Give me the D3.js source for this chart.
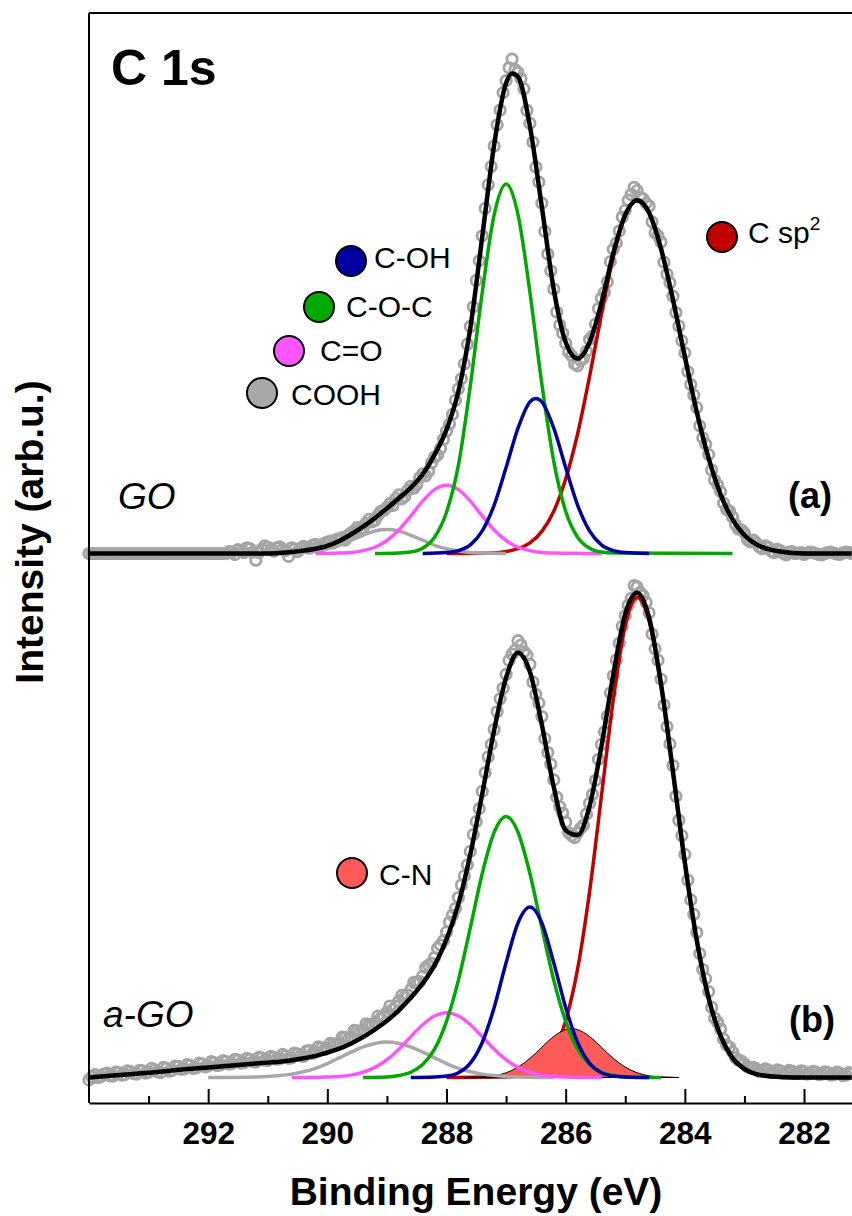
<!DOCTYPE html>
<html>
<head>
<meta charset="utf-8">
<script src="https://cdn.jsdelivr.net/npm/d3@7"></script>
<style>
    body { margin: 0; background: #fff; }
    svg { display: block; font-family: "Liberation Sans", Arial, sans-serif; }
</style>
</head>
<body>
<div class="chart"></div>
<script>
// measured C 1s spectra, [binding energy (eV), intensity (arb.u.)]
const goData = [
    [294.00,0],[293.95,0],[293.90,0],[293.85,0],[293.80,0],[293.75,0],[293.70,0],[293.65,0],[293.60,0],[293.55,0],
    [293.50,0],[293.45,0],[293.40,0],[293.35,0],[293.30,0],[293.25,0],[293.20,0],[293.15,0],[293.10,0],[293.05,0],
    [293.00,0],[292.95,0],[292.90,0],[292.85,0],[292.80,0],[292.75,0],[292.70,0],[292.65,0],[292.60,0],[292.55,0],
    [292.50,0],[292.45,0],[292.40,0],[292.35,0],[292.30,0],[292.25,0],[292.20,0],[292.15,0],[292.10,0],[292.05,0],
    [292.00,0],[291.95,0],[291.90,0],[291.85,0],[291.80,0],[291.75,0],[291.70,0],[291.65,0.4],[291.60,0.3],[291.55,-0.2],
    [291.50,0.8],[291.45,0.5],[291.40,0.2],[291.35,1.2],[291.30,1.0],[291.25,0.3],[291.20,-1.4],[291.15,0.2],[291.10,0.9],[291.05,1.6],
    [291.00,1.3],[290.95,0.8],[290.90,0.5],[290.85,1.2],[290.80,1.4],[290.75,0.9],[290.70,0.6],[290.65,-0.6],[290.60,1.2],[290.55,0.9],
    [290.50,0.4],[290.45,1.1],[290.40,1.5],[290.35,1.2],[290.30,1.1],[290.25,1.7],[290.20,1.9],[290.15,1.4],[290.10,1.6],[290.05,2.1],
    [290.00,2.4],[289.95,2.6],[289.90,2.2],[289.85,2.9],[289.80,3.1],[289.75,3.3],[289.70,2.8],[289.65,3.8],[289.60,4.3],[289.55,4.7],
    [289.50,5.4],[289.45,5.0],[289.40,5.2],[289.35,6.3],[289.30,7.1],[289.25,6.6],[289.20,6.9],[289.15,8.0],[289.10,8.8],[289.05,9.0],
    [289.00,9.6],[288.95,10.4],[288.90,10.0],[288.85,11.5],[288.80,12.2],[288.75,11.4],[288.70,11.9],[288.65,13.2],[288.60,14.0],[288.55,13.6],
    [288.50,14.3],[288.45,15.8],[288.40,16.6],[288.35,16.2],[288.30,17.1],[288.25,18.9],[288.20,20.1],[288.15,20.5],[288.10,21.9],[288.05,23.8],
    [288.00,25.5],[287.95,27.0],[287.90,29.0],[287.85,31.9],[287.80,34.3],[287.75,36.4],[287.70,39.5],[287.65,43.6],[287.60,47.3],[287.55,51.4],
    [287.50,56.9],[287.45,61.0],[287.40,66.2],[287.35,71.9],[287.30,76.8],[287.25,80.6],[287.20,84.9],[287.15,89.3],[287.10,92.4],[287.05,96.0],
    [287.00,98.5],[286.95,101.2],[286.90,103.0],[286.85,100.8],[286.80,100.2],[286.75,98.9],[286.70,96.8],[286.65,92.3],[286.60,89.6],[286.55,85.7],
    [286.50,80.5],[286.45,77.4],[286.40,73.0],[286.35,67.1],[286.30,62.4],[286.25,58.9],[286.20,55.1],[286.15,50.3],[286.10,47.6],[286.05,45.9],
    [286.00,43.8],[285.95,42.0],[285.90,41.2],[285.85,39.5],[285.80,39.1],[285.75,40.2],[285.70,40.7],[285.65,42.1],[285.60,44.6],[285.55,45.3],
    [285.50,47.8],[285.45,51.0],[285.40,53.2],[285.35,54.4],[285.30,56.6],[285.25,60.8],[285.20,63.4],[285.15,64.7],[285.10,67.2],[285.05,70.1],
    [285.00,71.5],[284.95,73.6],[284.90,74.8],[284.85,76.3],[284.80,75.6],[284.75,74.2],[284.70,73.9],[284.65,73.0],[284.60,72.4],[284.55,69.1],
    [284.50,66.8],[284.45,66.2],[284.40,64.9],[284.35,60.7],[284.30,58.2],[284.25,56.4],[284.20,53.6],[284.15,50.2],[284.10,47.4],[284.05,44.3],
    [284.00,41.8],[283.95,37.9],[283.90,35.2],[283.85,33.0],[283.80,30.4],[283.75,26.6],[283.70,24.1],[283.65,22.8],[283.60,20.6],[283.55,17.4],
    [283.50,15.3],[283.45,14.3],[283.40,12.9],[283.35,10.5],[283.30,9.2],[283.25,8.8],[283.20,7.6],[283.15,6.0],[283.10,5.1],[283.05,4.9],
    [283.00,4.3],[282.95,2.9],[282.90,2.4],[282.85,2.8],[282.80,2.2],[282.75,1.4],[282.70,1.0],[282.65,1.6],[282.60,1.3],[282.55,0.5],
    [282.50,0.2],[282.45,0.9],[282.40,0.6],[282.35,0.1],[282.30,-0.3],[282.25,0.3],[282.20,0.4],[282.15,0],[282.10,0.1],[282.05,0.2],
    [282.00,-0.2],[281.95,0.1],[281.90,0.3],[281.85,0.2],[281.80,0],[281.75,-0.2],[281.70,-0.3],[281.65,0],[281.60,0.2],[281.55,0.3],
    [281.50,0.1],[281.45,-0.1],[281.40,-0.2],[281.35,0.1],[281.30,0.3],[281.25,0.2],[281.20,0]
];

const agoData = [
    [294.00,-0.5],[293.95,0.1],[293.90,0.6],[293.85,0.0],[293.80,0.2],[293.75,0.7],[293.70,0.9],[293.65,0.4],[293.60,0.3],[293.55,1.1],
    [293.50,1.0],[293.45,0.5],[293.40,0.6],[293.35,1.4],[293.30,1.2],[293.25,0.8],[293.20,0.7],[293.15,1.5],[293.10,1.4],[293.05,0.9],
    [293.00,1.1],[292.95,1.9],[292.90,1.6],[292.85,1.2],[292.80,1.0],[292.75,2.1],[292.70,1.9],[292.65,1.3],[292.60,1.5],[292.55,2.4],
    [292.50,2.3],[292.45,1.7],[292.40,1.8],[292.35,2.7],[292.30,2.5],[292.25,1.9],[292.20,2.0],[292.15,3.0],[292.10,2.8],[292.05,2.2],
    [292.00,2.4],[291.95,3.3],[291.90,3.1],[291.85,2.5],[291.80,2.6],[291.75,3.5],[291.70,3.3],[291.65,2.8],[291.60,2.9],[291.55,3.8],
    [291.50,3.6],[291.45,3.0],[291.40,3.1],[291.35,4.0],[291.30,3.8],[291.25,3.3],[291.20,3.2],[291.15,4.2],[291.10,4.1],[291.05,3.6],
    [291.00,3.5],[290.95,4.4],[290.90,4.2],[290.85,3.8],[290.80,3.9],[290.75,4.8],[290.70,4.5],[290.65,4.0],[290.60,4.1],[290.55,5.1],
    [290.50,4.9],[290.45,4.5],[290.40,4.4],[290.35,5.5],[290.30,5.6],[290.25,5.0],[290.20,5.3],[290.15,6.4],[290.10,6.2],[290.05,5.8],
    [290.00,6.0],[289.95,7.1],[289.90,7.0],[289.85,6.9],[289.80,7.2],[289.75,8.4],[289.70,8.3],[289.65,8.0],[289.60,8.5],[289.55,9.8],
    [289.50,9.7],[289.45,9.4],[289.40,9.9],[289.35,11.2],[289.30,11.0],[289.25,10.9],[289.20,11.5],[289.15,12.8],[289.10,12.4],[289.05,12.7],
    [289.00,13.6],[288.95,14.9],[288.90,14.2],[288.85,14.8],[288.80,15.9],[288.75,17.1],[288.70,16.8],[288.65,17.2],[288.60,18.3],[288.55,19.8],
    [288.50,19.9],[288.45,20.0],[288.40,21.1],[288.35,22.9],[288.30,23.4],[288.25,23.8],[288.20,25.0],[288.15,26.9],[288.10,27.6],[288.05,28.5],
    [288.00,30.3],[287.95,32.4],[287.90,33.8],[287.85,35.2],[287.80,37.5],[287.75,40.1],[287.70,42.0],[287.65,44.3],[287.60,47.1],[287.55,50.6],
    [287.50,53.3],[287.45,56.0],[287.40,59.6],[287.35,63.5],[287.30,66.8],[287.25,69.4],[287.20,72.5],[287.15,76.2],[287.10,78.9],[287.05,81.1],
    [287.00,84.0],[286.95,86.9],[286.90,88.2],[286.85,89.0],[286.80,91.0],[286.75,90.1],[286.70,88.7],[286.65,88.0],[286.60,86.1],[286.55,82.4],
    [286.50,79.8],[286.45,78.0],[286.40,75.2],[286.35,70.6],[286.30,67.7],[286.25,65.3],[286.20,62.0],[286.15,58.4],[286.10,56.4],[286.05,55.1],
    [286.00,53.2],[285.95,51.0],[285.90,50.4],[285.85,50.0],[285.80,51.0],[285.75,51.9],[285.70,52.6],[285.65,54.9],[285.60,57.1],[285.55,59.0],
    [285.50,61.9],[285.45,66.3],[285.40,69.4],[285.35,72.0],[285.30,75.3],[285.25,80.1],[285.20,83.7],[285.15,87.0],[285.10,90.5],[285.05,94.0],
    [285.00,96.2],[284.95,98.4],[284.90,99.8],[284.85,102.5],[284.80,102.2],[284.75,101.0],[284.70,100.4],[284.65,99.0],[284.60,96.8],[284.55,92.4],
    [284.50,89.3],[284.45,86.9],[284.40,83.0],[284.35,77.6],[284.30,73.1],[284.25,69.5],[284.20,65.0],[284.15,58.6],[284.10,53.6],[284.05,50.4],
    [284.00,46.5],[283.95,41.1],[283.90,37.0],[283.85,34.0],[283.80,30.2],[283.75,25.8],[283.70,22.5],[283.65,20.6],[283.60,17.9],[283.55,14.6],
    [283.50,12.4],[283.45,11.5],[283.40,10.1],[283.35,8.0],[283.30,6.8],[283.25,6.3],[283.20,5.3],[283.15,4.1],[283.10,3.6],[283.05,3.4],
    [283.00,2.9],[282.95,2.2],[282.90,2.0],[282.85,2.1],[282.80,1.8],[282.75,1.3],[282.70,1.5],[282.65,1.8],[282.60,1.6],[282.55,1.0],
    [282.50,1.2],[282.45,1.6],[282.40,1.4],[282.35,0.9],[282.30,1.1],[282.25,1.5],[282.20,1.3],[282.15,0.8],[282.10,0.9],[282.05,1.4],
    [282.00,1.2],[281.95,0.7],[281.90,0.8],[281.85,1.3],[281.80,1.1],[281.75,0.6],[281.70,0.7],[281.65,1.2],[281.60,1.0],[281.55,0.5],
    [281.50,0.6],[281.45,1.1],[281.40,0.9],[281.35,0.4],[281.30,0.5],[281.25,1.0],[281.20,0.8]
];

// fitted components, [energy, intensity]
const goCsp2 = [[288.0,0],[287.2,0.1],[287.0,0.4],[286.8,1.0],[286.6,2.2],[286.4,4.6],[286.2,8.8],[286.0,15.5],[285.8,24.9],[285.6,36.8],[285.4,49.8],[285.2,61.8],[285.0,70.4],[284.8,73.5],[284.6,70.9],[284.4,63.5],[284.2,52.9],[284.0,41.0],[283.8,29.5],[283.6,19.8],[283.4,12.3],[283.2,7.1],[283.0,3.8],[282.8,1.9],[282.6,0.9],[282.4,0.4],[282.2,0.1],[281.8,0]];
const goCOH = [[288.4,0],[288.0,0.2],[287.8,0.6],[287.6,1.8],[287.4,4.7],[287.2,10.1],[287.0,17.9],[286.8,26.1],[286.6,31.6],[286.5,32.3],[286.4,31.6],[286.2,26.1],[286.0,17.9],[285.8,10.1],[285.6,4.7],[285.4,1.8],[285.2,0.6],[285.0,0.2],[284.6,0]];
const goCOC = [[289.2,0],[288.8,0.1],[288.6,0.3],[288.4,1.1],[288.2,3.4],[288.0,8.6],[287.8,18.4],[287.6,35.0],[287.4,54.4],[287.2,70.6],[287.0,77.0],[286.8,70.6],[286.6,54.4],[286.4,35.3],[286.2,19.2],[286.0,8.8],[285.8,3.4],[285.6,1.1],[285.4,0.3],[285.2,0.1],[283.2,0]];
const goCO = [[290.2,0],[289.8,0.1],[289.6,0.2],[289.4,0.6],[289.2,1.3],[289.0,2.7],[288.8,4.9],[288.6,7.8],[288.4,10.9],[288.2,13.3],[288.0,14.2],[287.8,13.3],[287.6,10.9],[287.4,7.8],[287.2,4.9],[287.0,2.7],[286.8,1.3],[286.6,0.6],[286.4,0.2],[286.2,0.1],[285.4,0]];
const goCOOH = [[291.0,0],[290.6,0.1],[290.4,0.2],[290.2,0.5],[290.0,1.0],[289.8,1.7],[289.6,2.8],[289.4,3.8],[289.2,4.7],[289.0,5.0],[288.8,4.7],[288.6,3.8],[288.4,2.8],[288.2,1.7],[288.0,1.0],[287.8,0.5],[287.6,0.2],[287.4,0.1],[287.0,0]];
const goFit = [[294.0,0],[291.0,0],[290.8,0.1],[290.6,0.3],[290.4,0.6],[290.2,1.0],[290.0,1.6],[289.8,2.6],[289.6,4.0],[289.4,5.6],[289.2,7.4],[289.0,9.4],[288.8,11.5],[288.6,13.7],[288.4,16.5],[288.2,20.6],[288.0,25.8],[287.8,33.8],[287.6,47.0],[287.4,66.0],[287.2,85.2],[287.0,98.0],[286.9,100.0],[286.8,99.3],[286.6,89.0],[286.4,72.2],[286.2,55.0],[286.0,44.0],[285.8,40.6],[285.6,44.0],[285.4,52.2],[285.2,62.6],[285.0,70.6],[284.8,73.6],[284.6,71.0],[284.4,63.5],[284.2,52.9],[284.0,41.0],[283.8,29.5],[283.6,19.8],[283.4,12.3],[283.2,7.1],[283.0,3.8],[282.8,1.9],[282.6,0.9],[282.4,0.4],[282.2,0.1],[282.0,0],[281.2,0]];

const agoCsp2 = [[288.0,0],[287.0,0.1],[286.8,0.3],[286.6,0.8],[286.4,2.2],[286.2,5.4],[286.0,11.8],[285.8,22.6],[285.6,38.6],[285.4,58.6],[285.2,78.8],[285.0,94.2],[284.8,100.0],[284.6,95.1],[284.4,81.7],[284.2,63.5],[284.0,44.6],[283.8,28.4],[283.6,16.3],[283.4,8.5],[283.2,4.0],[283.0,1.7],[282.8,0.6],[282.6,0.2],[282.4,0.1],[282.0,0]];
const agoCOH = [[288.6,0],[288.2,0.1],[288.0,0.3],[287.8,1.0],[287.6,3.0],[287.4,7.3],[287.2,14.6],[287.0,23.9],[286.8,32.2],[286.6,35.5],[286.4,32.2],[286.2,23.9],[286.0,14.6],[285.8,7.3],[285.6,3.0],[285.4,1.0],[285.2,0.3],[285.0,0.1],[284.6,0]];
const agoCOC = [[289.4,0],[289.0,0.1],[288.8,0.4],[288.6,1.1],[288.4,2.7],[288.2,5.9],[288.0,11.7],[287.8,20.3],[287.6,31.2],[287.4,42.5],[287.2,51.1],[287.0,54.4],[286.8,51.1],[286.6,42.5],[286.4,31.2],[286.2,20.3],[286.0,11.7],[285.8,5.9],[285.6,2.7],[285.4,1.1],[285.2,0.4],[285.0,0.1],[284.4,0]];
const agoCO = [[290.6,0],[290.0,0.1],[289.8,0.2],[289.6,0.5],[289.4,1.1],[289.2,2.1],[289.0,3.7],[288.8,5.9],[288.6,8.5],[288.4,11.0],[288.2,12.8],[288.0,13.5],[287.8,12.8],[287.6,11.0],[287.4,8.5],[287.2,5.9],[287.0,3.7],[286.8,2.1],[286.6,1.1],[286.4,0.5],[286.2,0.2],[286.0,0.1],[285.4,0]];
const agoCOOH = [[292.0,0],[291.2,0.1],[291.0,0.2],[290.8,0.4],[290.6,0.7],[290.4,1.2],[290.2,1.9],[290.0,2.9],[289.8,4.1],[289.6,5.3],[289.4,6.4],[289.2,7.1],[289.0,7.4],[288.8,7.1],[288.6,6.4],[288.4,5.3],[288.2,4.1],[288.0,2.9],[287.8,1.9],[287.6,1.2],[287.4,0.7],[287.2,0.4],[287.0,0.2],[286.8,0.1],[286.2,0]];
const agoCN = [[287.7,0],[287.5,0.1],[287.3,0.2],[287.1,0.6],[286.9,1.5],[286.7,3.0],[286.5,5.1],[286.3,7.5],[286.1,9.4],[285.9,10.2],[285.7,9.4],[285.5,7.5],[285.3,5.1],[285.1,3.0],[284.9,1.5],[284.7,0.6],[284.5,0.2],[284.3,0.1],[284.1,0]];
const agoFit = [[294.0,0],[293.6,0.4],[293.2,0.8],[292.8,1.2],[292.4,1.7],[292.0,2.1],[291.6,2.5],[291.2,2.9],[291.0,3.1],[290.8,3.3],[290.6,3.6],[290.4,4.0],[290.2,4.5],[290.0,5.2],[289.8,6.0],[289.6,7.1],[289.4,8.4],[289.2,10.0],[289.0,11.8],[288.8,14.0],[288.6,16.6],[288.4,19.6],[288.2,23.4],[288.0,28.8],[287.8,36.2],[287.6,46.5],[287.4,59.1],[287.2,72.4],[287.0,83.3],[286.8,88.5],[286.6,84.5],[286.4,73.5],[286.2,60.5],[286.0,51.5],[285.8,50.5],[285.6,56.5],[285.4,69.0],[285.2,84.0],[285.0,96.6],[284.8,101.0],[284.6,95.8],[284.4,82.0],[284.2,63.8],[284.0,44.8],[283.8,28.6],[283.6,16.5],[283.4,8.7],[283.2,4.1],[283.0,1.8],[282.8,0.7],[282.6,0.3],[282.4,0.1],[282.2,0],[281.2,0]];

const majorTicks = [292, 290, 288, 286, 284, 282];
const minorTicks = [293, 291, 289, 287, 285, 283];
const legendLabels = ["C-OH", "C-O-C", "C=O", "COOH", "C sp", "C-N"];

const createChart = () => {
    const w = 852;
    const h = 1216;
    const left = 89;
    const top = 13;
    const axisY = 1103;

    const colors = {
        csp2: "#c00000", coh: "#0000a0", coc: "#00a800",
        co: "#ff55ff", cooh: "#a8a8a8", cn: "#ff5a5a", data: "#a4a4a4"
    };

    const xScale = d3.scaleLinear().domain([294, 281]).range([left, 863.6]);
    const yA = d3.scaleLinear().domain([0, 100]).range([553.5, 73.5]);
    const yB = d3.scaleLinear().domain([0, 100]).range([1077.5, 597.5]);

    const svg = d3.select(".chart")
        .append("svg")
        .attr("width", w)
        .attr("height", h);

    const panels = [
        {
            y: yA, data: goData, fit: goFit,
            comps: [[goCsp2, colors.csp2], [goCOOH, colors.cooh], [goCO, colors.co], [goCOC, colors.coc], [goCOH, colors.coh]]
        },
        {
            y: yB, data: agoData, fit: agoFit, cn: agoCN,
            comps: [[agoCsp2, colors.csp2], [agoCOOH, colors.cooh], [agoCO, colors.co], [agoCOC, colors.coc], [agoCOH, colors.coh]]
        }
    ];

    panels.forEach(p => {
        const g = svg.append("g");
        const line = d3.line()
            .x(d => xScale(d[0]))
            .y(d => p.y(d[1]))
            .curve(d3.curveMonotoneX);

        g.append("g")
            .selectAll("circle")
            .data(p.data)
            .enter()
            .append("circle")
            .attr("cx", d => xScale(d[0]))
            .attr("cy", d => p.y(d[1]))
            .attr("r", 5.2)
            .attr("fill", "none")
            .attr("stroke", colors.data)
            .attr("stroke-width", 2.8);

        // C sp2 first so the C-N fill sits over it
        g.append("path")
            .datum(p.comps[0][0])
            .attr("d", line)
            .attr("fill", "none")
            .attr("stroke", p.comps[0][1])
            .attr("stroke-width", 3.5);

        if (p.cn) {
            const area = d3.area()
                .x(d => xScale(d[0]))
                .y0(p.y(0))
                .y1(d => p.y(d[1]))
                .curve(d3.curveMonotoneX);
            g.append("path")
                .datum(p.cn)
                .attr("d", area)
                .attr("fill", colors.cn)
                .attr("stroke", "#000")
                .attr("stroke-width", 1);
        }

        p.comps.slice(1).forEach(c => {
            g.append("path")
                .datum(c[0])
                .attr("d", line)
                .attr("fill", "none")
                .attr("stroke", c[1])
                .attr("stroke-width", 3.5);
        });

        g.append("path")
            .datum(p.fit)
            .attr("d", line)
            .attr("fill", "none")
            .attr("stroke", "#000")
            .attr("stroke-width", 4.5);
    });

    // frame
    svg.append("line")
        .attr("x1", left).attr("x2", w)
        .attr("y1", top).attr("y2", top)
        .attr("stroke", "#000").attr("stroke-width", 2);
    svg.append("line")
        .attr("x1", left).attr("x2", left)
        .attr("y1", top).attr("y2", axisY)
        .attr("stroke", "#000").attr("stroke-width", 2);

    const xAxisGenerator = d3.axisBottom(xScale)
        .tickValues(majorTicks)
        .tickSizeInner(-14)
        .tickSizeOuter(0)
        .tickPadding(19)
        .tickFormat(d3.format("d"));

    const xAxis = svg.append("g")
        .attr("transform", "translate(0," + axisY + ")")
        .call(xAxisGenerator)
        .attr("id", "x-axis");
    xAxis.select(".domain").attr("stroke-width", 2);
    xAxis.selectAll(".tick line").attr("stroke-width", 2);
    xAxis.selectAll(".tick text")
        .attr("font-family", "'Liberation Sans', Arial, sans-serif")
        .attr("font-size", 31.5)
        .attr("font-weight", "bold")
        .attr("fill", "#000");

    const minorAxis = svg.append("g")
        .attr("transform", "translate(0," + axisY + ")")
        .call(d3.axisBottom(xScale).tickValues(minorTicks).tickSizeInner(-7).tickSizeOuter(0).tickFormat(""));
    minorAxis.select(".domain").remove();
    minorAxis.selectAll(".tick line").attr("stroke-width", 2);

    // titles
    svg.append("text")
        .attr("x", 476).attr("y", 1205)
        .attr("text-anchor", "middle")
        .attr("font-size", 39).attr("font-weight", "bold")
        .text("Binding Energy (eV)");

    svg.append("text")
        .attr("transform", "translate(43,532) rotate(-90)")
        .attr("text-anchor", "middle")
        .attr("font-size", 39).attr("font-weight", "bold")
        .text("Intensity (arb.u.)");

    svg.append("text")
        .attr("x", 111).attr("y", 85)
        .attr("font-size", 50).attr("font-weight", "bold")
        .text("C 1s");

    svg.append("text").attr("x", 118).attr("y", 509)
        .attr("font-size", 37).attr("font-style", "italic").text("GO");
    svg.append("text").attr("x", 103).attr("y", 1027)
        .attr("font-size", 37).attr("font-style", "italic").text("a-GO");
    svg.append("text").attr("x", 788).attr("y", 508)
        .attr("font-size", 36).attr("font-weight", "bold").text("(a)");
    svg.append("text").attr("x", 789).attr("y", 1032)
        .attr("font-size", 36).attr("font-weight", "bold").text("(b)");

    // legend markers
    const legendSpots = [
        { cx: 351, cy: 261, tx: 374, ty: 268, fill: colors.coh },
        { cx: 319, cy: 307, tx: 346, ty: 317, fill: colors.coc },
        { cx: 289, cy: 351, tx: 320, ty: 361, fill: colors.co },
        { cx: 262, cy: 393, tx: 291, ty: 405, fill: colors.cooh },
        { cx: 722, cy: 237, tx: 748, ty: 243, fill: colors.csp2 },
        { cx: 352, cy: 873, tx: 379, ty: 885, fill: colors.cn }
    ];

    const leg = svg.append("g")
        .selectAll("g")
        .data(legendLabels)
        .enter()
        .append("g");
    leg.append("circle")
        .attr("cx", (d, i) => legendSpots[i].cx)
        .attr("cy", (d, i) => legendSpots[i].cy)
        .attr("r", 15)
        .attr("fill", (d, i) => legendSpots[i].fill)
        .attr("stroke", "#000")
        .attr("stroke-width", 2);
    const lt = leg.append("text")
        .attr("x", (d, i) => legendSpots[i].tx)
        .attr("y", (d, i) => legendSpots[i].ty)
        .attr("font-size", 30)
        .text(d => d);
    lt.filter(d => d === "C sp")
        .append("tspan")
        .attr("dy", -13)
        .attr("font-size", 19)
        .text("2");
};

createChart();
</script>
</body>
</html>
